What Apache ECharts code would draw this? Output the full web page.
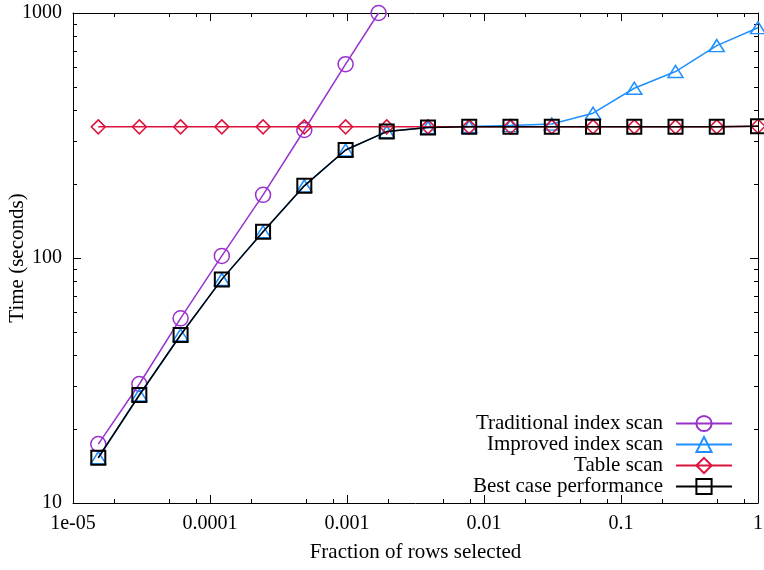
<!DOCTYPE html>
<html>
<head>
<meta charset="utf-8">
<script src="https://cdn.jsdelivr.net/npm/echarts@6/dist/echarts.min.js"></script>
<style>
  html, body { margin: 0; padding: 0; background: #fff; }
  #chart { width: 764px; height: 570px; }
</style>
</head>
<body>
<div id="chart"></div>
<script>
// ---- Data ----
const xFractions = [0.0000153, 0.0000305, 0.000061, 0.000122, 0.000244, 0.000488, 0.000977, 0.00195,
                    0.0039, 0.0078, 0.0156, 0.03125, 0.0625, 0.125, 0.25, 0.5, 1];
const traditionalX = [0.0000153, 0.0000305, 0.000061, 0.000122, 0.000244, 0.000488, 0.000977, 0.0017];
const traditional  = [17.4, 30.6, 56.7, 102, 181, 333, 618, 1000];
const improved     = [15.3, 27.6, 48.5, 81.8, 128, 197, 276, 328, 341, 344, 347, 352, 390, 493, 577, 736, 871];
const tableScan    = [343, 343, 343, 343, 343, 343, 343, 343, 343, 343, 343, 343, 343, 343, 343, 343, 345];
const bestCase     = [15.3, 27.6, 48.5, 81.8, 128, 197, 276, 328, 341, 343, 343, 343, 343, 343, 343, 343, 345];

const seriesNames = ['Traditional index scan', 'Improved index scan', 'Table scan', 'Best case performance'];

// ---- Tick labels ----
const xTickValues = [0.00001, 0.0001, 0.001, 0.01, 0.1, 1];
const xTickLabels = ['1e-05', '0.0001', '0.001', '0.01', '0.1', '1'];
const xMinorTicks = [0.00002, 0.00005, 0.00008, 0.0002, 0.0005, 0.0008, 0.002, 0.005, 0.008,
                     0.02, 0.05, 0.08, 0.2, 0.5, 0.8];
const yTickValues = [10, 100, 1000];
const yTickLabels = ['10', '100', '1000'];
const yMinorTicks = [20, 30, 40, 50, 60, 70, 80, 90, 200, 300, 400, 500, 600, 700, 800, 900];

const xAxisTitle = 'Fraction of rows selected';
const yAxisTitle = 'Time (seconds)';

// ---- Styling ----
const FONT = 'Liberation Serif';
const colors = ['#9932cc', '#1e90ff', '#dc143c', '#000000'];

function lookup(values, labels) {
  return function (v) {
    for (let i = 0; i < values.length; i++) {
      if (Math.abs(Math.log10(v) - Math.log10(values[i])) < 1e-6) return labels[i];
    }
    return '';
  };
}

function pairs(xs, ys) { return ys.map((y, i) => [xs[i], y]); }

const majorTick = { show: true, inside: true, length: 8, lineStyle: { color: '#000', width: 1 } };
const minorTickStyle = { show: true, inside: true, length: 4, lineStyle: { color: '#000', width: 1 } };

const xMinorLog = xMinorTicks.map(Math.log10);
const yMinorLog = yMinorTicks.map(Math.log10);
const xLogMin = Math.log10(xTickValues[0]), xLogMax = Math.log10(xTickValues[xTickValues.length - 1]);
const yLogMin = Math.log10(yTickValues[0]), yLogMax = Math.log10(yTickValues[yTickValues.length - 1]);

function minorAxis(pos, min, max, vals) {
  return {
    type: 'value', position: pos, min: min, max: max,
    axisLine: { show: false, onZero: false }, splitLine: { show: false },
    axisLabel: { show: false },
    axisTick: Object.assign({ customValues: vals }, minorTickStyle),
    silent: true
  };
}

const symbolDefs = [
  { symbol: 'circle', size: 15, bw: 1.5 },
  { symbol: 'triangle', size: [15, 12], bw: 1.5 },
  { symbol: 'diamond', size: [14, 14], bw: 1.5 },
  { symbol: 'rect', size: 14, bw: 2 }
];
const seriesData = [
  pairs(traditionalX, traditional),
  pairs(xFractions, improved),
  pairs(xFractions, tableScan),
  pairs(xFractions, bestCase)
];

const chart = echarts.init(document.getElementById('chart'), null, { renderer: 'canvas' });
chart.setOption({
  animation: false,
  backgroundColor: '#fff',
  textStyle: { fontFamily: FONT },
  grid: { left: 73, right: 6, top: 13, bottom: 67, outerBoundsMode: 'none', containLabel: false },
  legend: {
    data: seriesNames,
    orient: 'vertical',
    align: 'right',
    right: 31,
    top: 413,
    padding: 0,
    itemWidth: 56,
    itemHeight: 19,
    itemGap: 0,
    selectedMode: false,
    textStyle: { fontFamily: FONT, fontSize: 21, color: '#000', padding: [0, 8, 0, 0] }
  },
  xAxis: [
    {
      type: 'log', logBase: 10, position: 'bottom',
      min: xTickValues[0], max: xTickValues[xTickValues.length - 1],
      name: xAxisTitle, nameLocation: 'middle', nameGap: 39, nameMoveOverlap: false,
      nameTextStyle: { fontFamily: FONT, fontSize: 21, color: '#000' },
      axisLine: { show: true, onZero: false, lineStyle: { color: '#000', width: 1 } },
      axisTick: majorTick,
      splitLine: { show: false },
      minorTick: { show: false },
      axisLabel: { fontFamily: FONT, fontSize: 20, color: '#000', margin: 11,
                   formatter: lookup(xTickValues, xTickLabels), showMinLabel: true, showMaxLabel: true,
                   hideOverlap: false }
    },
    minorAxis('bottom', xLogMin, xLogMax, xMinorLog),
    {
      type: 'log', logBase: 10, position: 'top',
      min: xTickValues[0], max: xTickValues[xTickValues.length - 1],
      axisLine: { show: true, onZero: false, lineStyle: { color: '#000', width: 1 } },
      axisTick: majorTick, axisLabel: { show: false }, splitLine: { show: false }
    },
    minorAxis('top', xLogMin, xLogMax, xMinorLog)
  ],
  yAxis: [
    {
      type: 'log', logBase: 10, position: 'left',
      min: yTickValues[0], max: yTickValues[yTickValues.length - 1],
      name: yAxisTitle, nameLocation: 'middle', nameGap: 45, nameRotate: 90, nameMoveOverlap: false,
      nameTextStyle: { fontFamily: FONT, fontSize: 21, color: '#000' },
      axisLine: { show: true, onZero: false, lineStyle: { color: '#000', width: 1 } },
      axisTick: majorTick,
      splitLine: { show: false },
      axisLabel: { fontFamily: FONT, fontSize: 20, color: '#000', margin: 11,
                   formatter: lookup(yTickValues, yTickLabels), showMinLabel: true, showMaxLabel: true }
    },
    minorAxis('left', yLogMin, yLogMax, yMinorLog),
    {
      type: 'log', logBase: 10, position: 'right',
      min: yTickValues[0], max: yTickValues[yTickValues.length - 1],
      axisLine: { show: true, onZero: false, lineStyle: { color: '#000', width: 1 } },
      axisTick: majorTick, axisLabel: { show: false }, splitLine: { show: false }
    },
    minorAxis('right', yLogMin, yLogMax, yMinorLog)
  ],
  series: seriesNames.map((name, i) => ({
    name: name,
    type: 'line',
    xAxisIndex: 0, yAxisIndex: 0,
    data: seriesData[i],
    symbol: symbolDefs[i].symbol,
    symbolSize: symbolDefs[i].size,
    showAllSymbol: true,
    lineStyle: { color: colors[i], width: 1.5 },
    itemStyle: { color: 'transparent', borderColor: colors[i], borderWidth: symbolDefs[i].bw },
    emphasis: { disabled: true },
    z: 2 + i
  }))
});
</script>
</body>
</html>
